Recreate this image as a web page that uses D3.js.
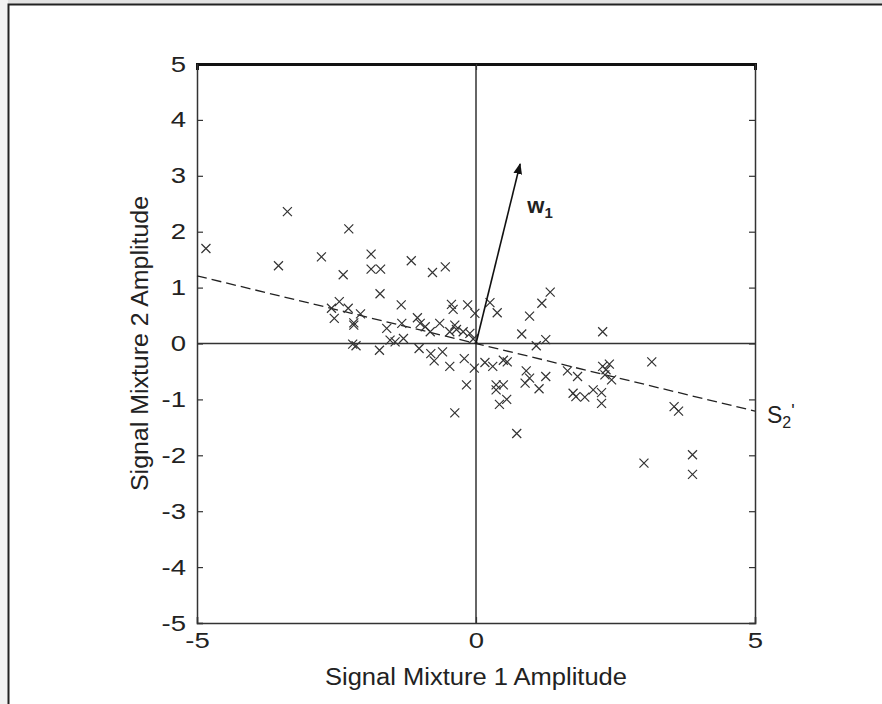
<!DOCTYPE html>
<html lang="en">
<head>
<meta charset="UTF-8">
<title>Signal Mixture Scatter</title>
<script src="https://d3js.org/d3.v7.min.js"></script>
<style>
    body { margin: 0; background: #fff; font-family: "Liberation Sans", Arial, sans-serif; }
    svg { display: block; }
    .axis-title { font-size: 23px; fill: #222; }
</style>
</head>
<body>
<svg></svg>
<script>
    // scatter points (x, y)
    const xVals = [
        -4.84, -3.38, -3.54, -2.77, -2.28, -2.38, -1.88, -1.88, -1.71, -1.16, -0.78, -0.55,
        -1.72, -1.34, -0.44, -0.41, -0.15, -0.02,
        -2.45, -2.59, -2.29, -2.54, -2.07, -2.19, -2.19, -2.21, -2.15, -1.73,
        -1.60, -1.54, -1.45, -1.30, -1.33, -1.05, -1.00, -0.91, -0.82, -0.65, -0.47, -0.38, -0.35,
        -0.23, -0.11, -0.05, -1.02, -0.81, -0.75, -0.60, -0.47, -0.21, -0.03, -0.17, -0.38,
        0.25, 0.38, 0.96, 1.18, 1.33, 0.82, 1.25, 1.08, 2.27,
        0.16, 0.30, 0.49, 0.56, 0.90, 0.96, 0.88, 1.25, 1.13, 0.36, 0.49, 0.36, 0.55, 0.42, 0.73,
        1.64, 1.82, 1.74, 1.79, 1.95, 2.10, 2.25, 2.25, 2.27, 2.33, 2.39, 2.43, 2.31,
        3.15, 3.55, 3.63, 3.01, 3.88, 3.88
    ];
    const yVals = [
        1.70, 2.36, 1.39, 1.55, 2.05, 1.23, 1.60, 1.33, 1.33, 1.48, 1.27, 1.37,
        0.89, 0.69, 0.70, 0.61, 0.69, 0.54,
        0.75, 0.63, 0.63, 0.45, 0.53, 0.33, 0.37, -0.01, -0.04, -0.12,
        0.27, 0.06, 0.03, 0.09, 0.36, 0.46, 0.36, 0.30, 0.21, 0.36, 0.21, 0.33, 0.25,
        0.21, 0.18, 0.08, -0.09, -0.18, -0.31, -0.15, -0.41, -0.27, -0.44, -0.74, -1.24,
        0.73, 0.55, 0.49, 0.72, 0.92, 0.17, 0.07, -0.04, 0.21,
        -0.34, -0.41, -0.30, -0.33, -0.49, -0.62, -0.71, -0.59, -0.81, -0.74, -0.74, -0.83, -1.00, -1.09, -1.61,
        -0.49, -0.59, -0.89, -0.95, -0.96, -0.83, -0.88, -1.07, -0.41, -0.47, -0.37, -0.65, -0.56,
        -0.33, -1.13, -1.21, -2.14, -1.99, -2.34
    ];

    const axisTicks = [-5, -4, -3, -2, -1, 0, 1, 2, 3, 4, 5];
    const xAxisTicks = [-5, 0, 5];

    // dashed direction line S2' and weight vector w1
    const dashX = [-5, 5];
    const dashY = [1.21, -1.21];
    const w1Tip = [0.79, 3.21];

    const W = 882, H = 704;
    const svg = d3.select("svg").attr("width", W).attr("height", H);

    // page frame
    svg.append("rect").attr("x", 0).attr("y", 0).attr("width", W).attr("height", 4).attr("fill", "#e2e2e2");
    svg.append("rect").attr("x", 0).attr("y", 0).attr("width", 8).attr("height", H).attr("fill", "#f2f2f2");
    svg.append("rect")
        .attr("x", 8.5).attr("y", 4.5).attr("width", W + 20).attr("height", H + 20)
        .attr("fill", "#fff").attr("stroke", "#222").attr("stroke-width", 2);

    const x = d3.scaleLinear().domain([-5, 5]).range([197, 755]);
    const y = d3.scaleLinear().domain([-5, 5]).range([623, 64]);

    const axisColor = "#333";
    const stretch = 1.25;         // the scanned labels are wider than Arial
    const fmt = d => String(d);   // plain hyphen, not unicode minus

    function styleAxis(g) {
        g.selectAll("path.domain").attr("stroke", axisColor).attr("stroke-width", 1.5);
        g.selectAll(".tick line").attr("stroke", axisColor).attr("stroke-width", 1.2);
        g.selectAll(".tick text")
            .attr("font-size", 22)
            .attr("font-family", "'Liberation Sans', Arial, sans-serif")
            .attr("fill", "#222");
    }

    // zero lines
    svg.append("line")
        .attr("x1", x(0)).attr("x2", x(0)).attr("y1", y(-5)).attr("y2", y(5))
        .attr("stroke", axisColor).attr("stroke-width", 1.5);
    svg.append("line")
        .attr("x1", x(-5)).attr("x2", x(5)).attr("y1", y(0)).attr("y2", y(0))
        .attr("stroke", axisColor).attr("stroke-width", 1.5);

    // axes (ticks point inward)
    svg.append("g")
        .attr("transform", `translate(${x(-5)},0)`)
        .call(d3.axisLeft(y).tickValues(axisTicks).tickSize(-6).tickPadding(11).tickFormat(fmt))
        .call(styleAxis)
        .selectAll(".tick text")
        .attr("x", -11 / stretch)
        .attr("transform", `scale(${stretch},1)`);
    svg.append("g")
        .attr("transform", `translate(${x(5)},0)`)
        .call(d3.axisRight(y).tickValues(axisTicks).tickSize(-6).tickFormat(""))
        .call(styleAxis);
    svg.append("g")
        .attr("transform", `translate(0,${y(-5)})`)
        .call(d3.axisBottom(x).tickValues(xAxisTicks).tickSize(-6).tickPadding(9).tickFormat(fmt))
        .call(styleAxis)
        .selectAll(".tick text")
        .attr("transform", `scale(${stretch},1)`);
    svg.append("g")
        .attr("transform", `translate(0,${y(5)})`)
        .call(d3.axisTop(x).tickValues(xAxisTicks).tickSize(-6).tickFormat(""))
        .call(styleAxis)
        .selectAll("path.domain").attr("stroke", "#111").attr("stroke-width", 3);

    // dashed line
    svg.append("line")
        .attr("x1", x(dashX[0])).attr("y1", y(dashY[0]))
        .attr("x2", x(dashX[1])).attr("y2", y(dashY[1]))
        .attr("stroke", "#222").attr("stroke-width", 1.3)
        .attr("stroke-dasharray", "10,5");

    // points
    const pts = xVals.map((v, i) => [v, yVals[i]]);
    svg.append("g").selectAll("path")
        .data(pts)
        .enter().append("path")
        .attr("transform", d => `translate(${x(d[0])},${y(d[1])})`)
        .attr("d", "M-4.5,-4.5L4.5,4.5M-4.5,4.5L4.5,-4.5")
        .attr("stroke", "#333").attr("stroke-width", 1.2).attr("fill", "none");

    // w1 arrow
    svg.append("defs").append("marker")
        .attr("id", "head")
        .attr("viewBox", "0 0 10 10")
        .attr("refX", 9).attr("refY", 5)
        .attr("markerWidth", 11).attr("markerHeight", 11)
        .attr("markerUnits", "userSpaceOnUse")
        .attr("orient", "auto")
        .append("path").attr("d", "M0,1L10,5L0,9Z").attr("fill", "#111");
    svg.append("line")
        .attr("x1", x(0)).attr("y1", y(0))
        .attr("x2", x(w1Tip[0])).attr("y2", y(w1Tip[1]))
        .attr("stroke", "#111").attr("stroke-width", 1.6)
        .attr("marker-end", "url(#head)");

    const wLabel = svg.append("text")
        .attr("x", x(0.92)).attr("y", y(2.34))
        .attr("font-size", 22).attr("font-weight", "bold").attr("fill", "#222");
    wLabel.append("tspan").text("w");
    wLabel.append("tspan").attr("font-size", 15).attr("dy", 5).text("1");

    const sLabel = svg.append("text")
        .attr("x", x(5) + 12).attr("y", y(-1.42))
        .attr("font-size", 23).attr("fill", "#222");
    sLabel.append("tspan").text("S");
    sLabel.append("tspan").attr("font-size", 16).attr("dy", 5).text("2");
    sLabel.append("tspan").attr("font-size", 18).attr("dy", -11).text("'");

    // axis titles
    svg.append("text")
        .attr("class", "axis-title")
        .attr("x", x(0)).attr("y", 685)
        .attr("text-anchor", "middle")
        .attr("textLength", 302).attr("lengthAdjust", "spacingAndGlyphs")
        .text("Signal Mixture 1 Amplitude");
    svg.append("text")
        .attr("class", "axis-title")
        .attr("transform", `translate(148,${y(0)}) rotate(-90)`)
        .attr("text-anchor", "middle")
        .attr("textLength", 295).attr("lengthAdjust", "spacingAndGlyphs")
        .text("Signal Mixture 2 Amplitude");
</script>
</body>
</html>
